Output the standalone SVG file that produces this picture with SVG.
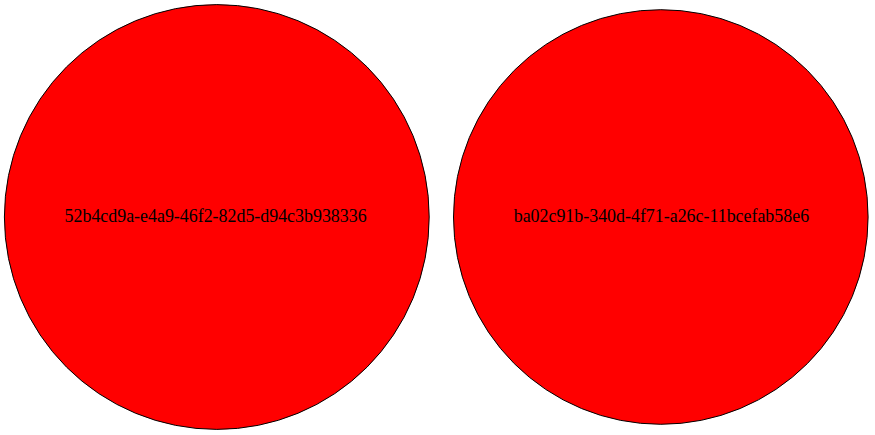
<svg xmlns="http://www.w3.org/2000/svg" width="875" height="435" viewBox="0 0 875 435">
<style>
.node circle{fill:#ff0000;stroke:#000000;stroke-width:1}
.node text{font-family:"Liberation Serif","Times New Roman",serif;font-size:17.9px;fill:#000000;text-anchor:middle}
</style>
<rect width="875" height="435" fill="#ffffff"/>
<g id="connectors"></g>
<g id="node1" class="node">
<circle cx="216.8" cy="217" r="212.4"/>
<text x="215.6" y="222.3">52b4cd9a-e4a9-46f2-82d5-d94c3b938336</text>
</g>
<g id="node2" class="node">
<circle cx="660.8" cy="217" r="207.3"/>
<text x="661.4" y="222.3">ba02c91b-340d-4f71-a26c-11bcefab58e6</text>
</g>
</svg>
